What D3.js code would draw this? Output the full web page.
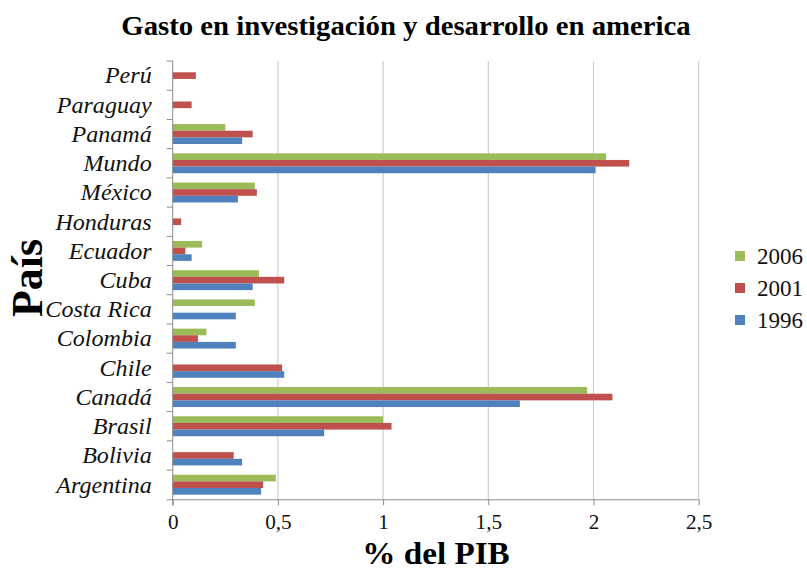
<!DOCTYPE html>
<html>
<head>
<meta charset="utf-8">
<script src="https://cdn.jsdelivr.net/npm/d3@7"></script>
<style>
  body { margin: 0; background: #fff; }
  text { font-family: "Liberation Serif", "Times New Roman", serif; }
</style>
</head>
<body>
<div id="drawing"></div>
<script>
// data (top to bottom as drawn)
const countries = ["Perú", "Paraguay", "Panamá", "Mundo", "México", "Honduras", "Ecuador",
  "Cuba", "Costa Rica", "Colombia", "Chile", "Canadá", "Brasil", "Bolivia", "Argentina"];
const years = ["2006", "2001", "1996"];
const v2006 = [null, null, 0.25, 2.06, 0.39, null, 0.14, 0.41, 0.39, 0.16, null, 1.97, 1.00, null, 0.49];
const v2001 = [0.11, 0.09, 0.38, 2.17, 0.40, 0.04, 0.06, 0.53, null, 0.12, 0.52, 2.09, 1.04, 0.29, 0.43];
const v1996 = [null, null, 0.33, 2.01, 0.31, null, 0.09, 0.38, 0.30, 0.30, 0.53, 1.65, 0.72, 0.33, 0.42];
const xTicks = [0, 0.5, 1, 1.5, 2, 2.5];
const colors = {"2006": "#9BBB59", "2001": "#C0504D", "1996": "#4F81BD"};

const width = 807, height = 572;
const plot = {left: 172.7, right: 698.7, top: 61, bottom: 499.3};

const svg = d3.select("#drawing").append("svg")
  .attr("width", width)
  .attr("height", height);

const series = {"2006": v2006, "2001": v2001, "1996": v1996};
const rows = [];
countries.forEach((c, i) => {
  years.forEach(y => {
    if (series[y][i] != null) rows.push({country: c, year: y, value: series[y][i]});
  });
});

const xScale = d3.scaleLinear().domain([0, 2.5]).range([plot.left, plot.right]);
const yScale = d3.scaleBand().domain(countries).range([plot.top, plot.bottom]);
const inner = d3.scaleBand().domain(years).range([0, yScale.bandwidth()])
  .paddingInner(0).paddingOuter(0.7);

// vertical gridlines
svg.append("g")
  .selectAll("line")
  .data(xTicks.filter(d => d > 0))
  .join("line")
  .attr("x1", d => xScale(d)).attr("x2", d => xScale(d))
  .attr("y1", plot.top).attr("y2", plot.bottom)
  .style("stroke", "#cfcfcf")
  .style("stroke-width", 1.2);

// bars
svg.append("g")
  .selectAll("rect")
  .data(rows)
  .join("rect")
  .attr("x", xScale(0))
  .attr("y", d => yScale(d.country) + inner(d.year))
  .attr("width", d => xScale(d.value) - xScale(0))
  .attr("height", inner.bandwidth())
  .style("fill", d => colors[d.year]);

// x axis
const xAxis = svg.append("g")
  .attr("transform", `translate(0, ${plot.bottom})`)
  .call(d3.axisBottom(xScale).tickValues(xTicks)
    .tickFormat(d => String(d).replace(".", ",")).tickSize(6).tickPadding(10).tickSizeOuter(0));
xAxis.select(".domain").attr("d", `M${plot.left - 6},0.5H${plot.right}`);
xAxis.selectAll("line").style("stroke", "#8c8c8c");
xAxis.select(".domain").style("stroke", "#8c8c8c");
xAxis.selectAll("text")
  .style("font-size", "20px")
  .style("fill", "#111")
  .attr("transform", "scale(1.06,1)");

// y axis, ticks between categories
const yAxis = svg.append("g")
  .attr("transform", `translate(${plot.left}, 0)`);
yAxis.append("line")
  .attr("x1", 0).attr("x2", 0).attr("y1", plot.top).attr("y2", plot.bottom + 6)
  .style("stroke", "#8c8c8c");
yAxis.selectAll(".tk")
  .data(countries)
  .join("line")
  .attr("class", "tk")
  .attr("x1", -6).attr("x2", 0)
  .attr("y1", d => yScale(d)).attr("y2", d => yScale(d))
  .style("stroke", "#8c8c8c");
yAxis.selectAll(".lbl")
  .data(countries)
  .join("text")
  .attr("class", "lbl")
  .attr("transform", d => `translate(-21, ${yScale(d) + yScale.bandwidth() / 2}) scale(1.07,1)`)
  .attr("dy", "0.35em")
  .attr("text-anchor", "end")
  .style("font-size", "22.5px")
  .style("font-style", "italic")
  .style("fill", "#111")
  .text(d => d);

// titles
svg.append("text")
  .attr("transform", "translate(406, 35) scale(1.065,1)")
  .attr("text-anchor", "middle")
  .style("font-size", "27px")
  .style("font-weight", "bold")
  .text("Gasto en investigación y desarrollo en america");

svg.append("text")
  .attr("transform", "translate(436, 564) scale(1.07,1)")
  .attr("text-anchor", "middle")
  .style("font-size", "31px")
  .style("font-weight", "bold")
  .text("% del PIB");

svg.append("text")
  .attr("transform", "translate(42, 278) rotate(-90)")
  .attr("text-anchor", "middle")
  .style("font-size", "44px")
  .style("font-weight", "bold")
  .text("País");

// legend
const legend = svg.append("g")
  .selectAll("g")
  .data(years)
  .join("g")
  .attr("transform", (d, i) => `translate(735, ${256 + i * 32})`);
legend.append("rect")
  .attr("x", 0).attr("y", -5)
  .attr("width", 10).attr("height", 10)
  .style("fill", d => colors[d]);
legend.append("text")
  .attr("x", 22).attr("y", 0)
  .attr("dy", "0.35em")
  .style("font-size", "23px")
  .style("fill", "#111")
  .text(d => d);
</script>
</body>
</html>
